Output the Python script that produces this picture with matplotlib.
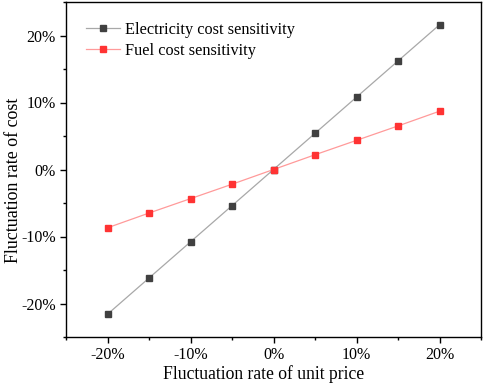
import matplotlib
matplotlib.use("Agg")
import matplotlib.pyplot as plt
from matplotlib.ticker import MultipleLocator, FuncFormatter

price_change = [-20, -15, -10, -5, 0, 5, 10, 15, 20]
electricity = [-21.6, -16.2, -10.8, -5.4, 0, 5.4, 10.8, 16.2, 21.6]
fuel = [-8.7, -6.5, -4.35, -2.2, 0, 2.2, 4.35, 6.5, 8.7]

plt.rcParams['font.family'] = ['Liberation Serif', 'DejaVu Serif']

fig = plt.figure(figsize=(4.84, 3.85), dpi=100)
ax = fig.add_axes([66/484, 1 - 337/385, (481-66)/484, (337-2)/385])

ax.plot(price_change, electricity, color='#A8A8A8', lw=0.9, marker='s', ms=4.6,
        mfc='#404040', mec='#404040', label='Electricity cost sensitivity')
ax.plot(price_change, fuel, color='#FF9A9A', lw=0.9, marker='s', ms=4.6,
        mfc='#FF3333', mec='#FF3333', label='Fuel cost sensitivity')

ax.set_xlim(-25, 25)
ax.set_ylim(-25, 25)
pct = FuncFormatter(lambda v, p: f"{v:.0f}%")
ax.xaxis.set_major_locator(MultipleLocator(10))
ax.xaxis.set_minor_locator(MultipleLocator(5))
ax.yaxis.set_major_locator(MultipleLocator(10))
ax.yaxis.set_minor_locator(MultipleLocator(5))
ax.xaxis.set_major_formatter(pct)
ax.yaxis.set_major_formatter(pct)
ax.tick_params(which='both', direction='out', top=False, right=False, labelsize=11.5, width=1.0)
ax.tick_params(which='major', length=4)
ax.tick_params(which='minor', length=2.5)
for s in ax.spines.values():
    s.set_linewidth(1.0)

ax.set_xlabel('Fluctuation rate of unit price', fontsize=12.7, labelpad=3)
ax.set_ylabel('Fluctuation rate of cost', fontsize=12.9, labelpad=2)
ax.xaxis.set_label_coords(0.475, -0.085)
ax.yaxis.set_label_coords(-0.107, 0.467)

ax.legend(loc='upper left', bbox_to_anchor=(0.02, 0.975), frameon=False, fontsize=11.7,
          handlelength=2.1, handletextpad=0.35, labelspacing=0.3, borderaxespad=0.3)

fig.savefig('out.png', dpi=100)
